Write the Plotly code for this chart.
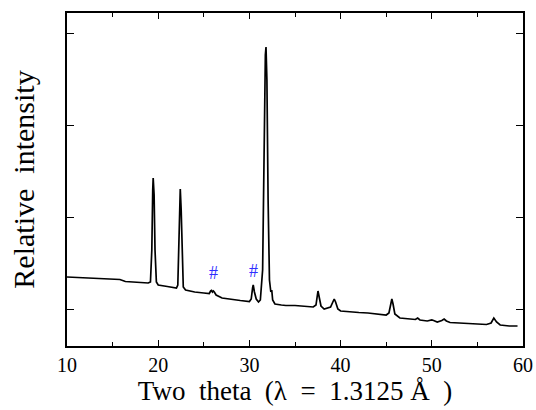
import plotly.graph_objects as go

# 2theta (deg) and relative intensity (arb. units)
two_theta = [10.0, 11.0, 12.0, 13.0, 14.0, 15.0, 15.8, 16.4, 17.0, 18.0, 18.9,
             19.15, 19.3, 19.4, 19.45, 19.55, 19.65, 19.8, 20.0, 21.0, 22.0,
             22.15, 22.25, 22.35, 22.42, 22.52, 22.62, 22.75, 23.0, 24.0, 25.0,
             25.6, 25.75, 25.85, 25.95, 26.05, 26.15, 26.35, 27.0, 28.0, 29.0,
             30.0, 30.2, 30.35, 30.42, 30.55, 30.75, 31.0, 31.2, 31.45, 31.6,
             31.75, 31.82, 31.92, 32.05, 32.2, 32.35, 32.45, 32.55, 32.8, 33.5,
             34.0, 35.0, 36.0, 37.0, 37.3, 37.45, 37.52, 37.65, 37.85, 38.2,
             38.9, 39.2, 39.3, 39.45, 39.7, 40.0, 41.0, 42.0, 43.0, 44.0,
             45.0, 45.3, 45.5, 45.62, 45.75, 45.95, 46.5, 47.5, 48.2, 48.45,
             48.7, 49.5, 50.0, 50.2, 50.6, 51.1, 51.35, 51.6, 52.0, 53.0,
             54.0, 55.0, 56.0, 56.5, 56.8, 57.1, 57.5, 58.5, 59.4]
intensity = [69, 68.5, 68, 68, 67.5, 67, 66.5, 64.5, 64, 63.5, 63,
             64, 96, 156, 168, 151, 96, 64, 61, 59.5, 58,
             61, 106, 151, 157, 136, 86, 59, 56, 54, 53,
             52.5, 55, 55.5, 54, 55, 54, 51, 48, 46.5, 45.5,
             44.5, 47, 58, 61, 54, 47, 44, 46, 76, 196,
             291, 299, 266, 146, 66, 54, 56, 46, 42, 41,
             40.5, 40.5, 40, 39, 41, 52, 55, 49, 40, 37,
             39, 45, 47, 44, 37, 35, 34, 33.5, 33, 32,
             31, 33, 43, 47, 42, 32, 28, 27, 26.5, 28,
             26, 25, 26, 25.5, 24, 25.5, 27, 25, 23.5, 23,
             22.5, 22, 21.5, 23, 28, 24, 21, 20, 20]

# impurity markers
hash_x = [26.1, 30.4]
hash_y = [73, 75]
hash_text = ["#", "#"]

x_ticks = [10, 20, 30, 40, 50, 60]
y_ticks = [37, 129, 221, 313]

fig = go.Figure()
fig.add_trace(go.Scatter(x=two_theta, y=intensity, mode="lines",
                         line=dict(color="black", width=1.7), showlegend=False))
for hx, hy, ht in zip(hash_x, hash_y, hash_text):
    fig.add_annotation(x=hx, y=hy, text=ht, showarrow=False,
                       font=dict(family="Liberation Serif", size=18, color="#2f2fff"))

fig.update_layout(
    width=536, height=410,
    margin=dict(l=67, r=13, t=13, b=64),
    paper_bgcolor="white", plot_bgcolor="white",
    font=dict(family="Liberation Serif", color="black"),
)
fig.update_xaxes(
    range=[10, 60], tickvals=x_ticks, ticktext=[str(v) for v in x_ticks],
    ticks="inside", ticklen=6, tickwidth=1, tickcolor="black",
    minor=dict(dtick=5, tick0=10, ticks="inside", ticklen=4, tickcolor="black"),
    showline=True, linecolor="black", linewidth=1.5, mirror="ticks",
    showgrid=False, zeroline=False, automargin=False,
    tickfont=dict(size=20, family="Liberation Serif"),
    title=dict(text="Two\u00a0 theta\u00a0 (λ\u00a0 =\u00a0 1.3125\u00a0Å\u00a0 )",
               font=dict(size=27, family="Liberation Serif"), standoff=6),
)
fig.update_yaxes(
    range=[0, 333], tickvals=y_ticks, showticklabels=False,
    ticks="inside", ticklen=7, tickwidth=1, tickcolor="black",
    showline=True, linecolor="black", linewidth=1.5, mirror="ticks",
    showgrid=False, zeroline=False, automargin=False,
    title=dict(text="Relative\u00a0 intensity", font=dict(size=30, family="Liberation Serif"),
               standoff=22),
)
fig.write_html("out.html", config={"displayModeBar": False},
               post_script="document.body.style.margin='0';")
